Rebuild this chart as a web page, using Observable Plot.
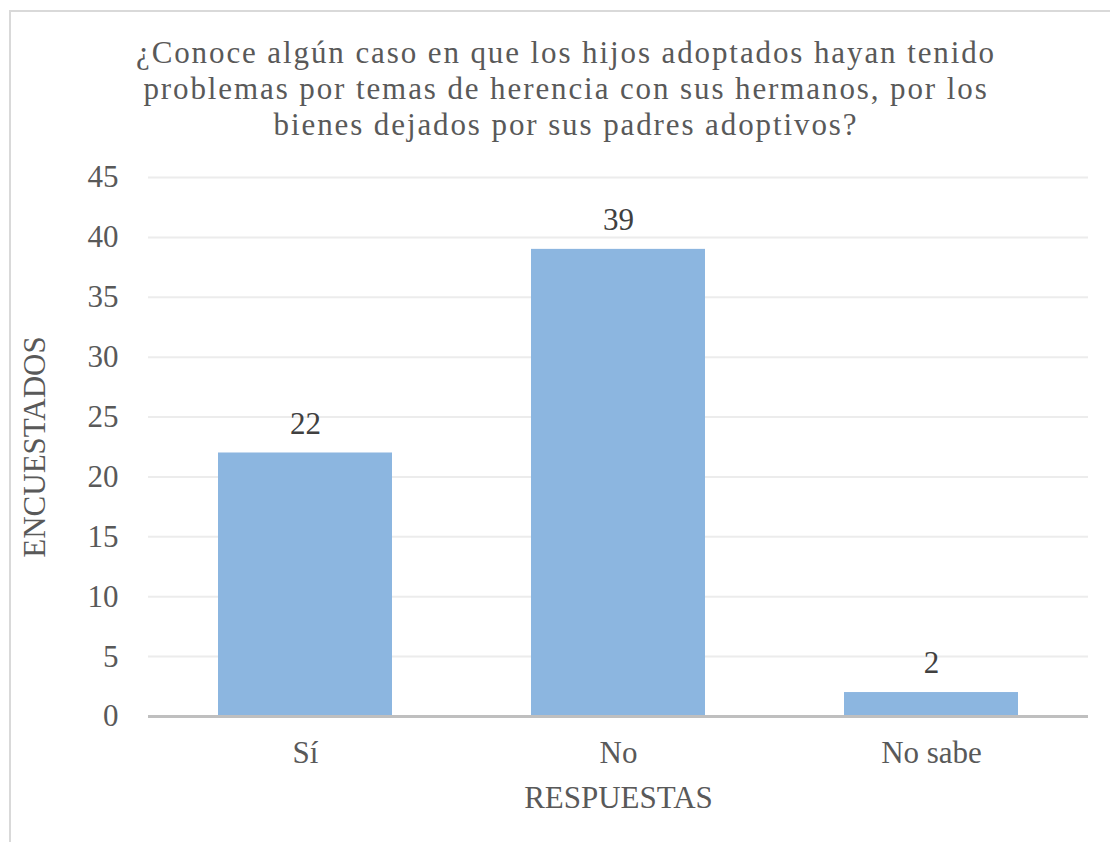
<!DOCTYPE html>
<html>
<head>
<meta charset="utf-8">
<script src="https://cdn.jsdelivr.net/npm/d3@7"></script>
<script src="https://cdn.jsdelivr.net/npm/@observablehq/plot@0.6"></script>
<style>
  html, body { margin: 0; padding: 0; background: #fff; }
  #wrap { position: relative; width: 1110px; height: 842px; overflow: hidden; }
  #frame { position: absolute; left: 9px; top: 10px; width: 1120px; height: 860px;
           border-left: 2px solid #d9d9d9; border-top: 2px solid #d9d9d9; pointer-events: none; }
  #title { height: 160px; box-sizing: border-box; padding-top: 35px; width: 1132px;
           text-align: center; font-family: "Liberation Serif", "Times New Roman", serif;
           font-size: 31px; line-height: 36px; color: #595959; letter-spacing: 1.9px; }
  svg { display: block; }
</style>
</head>
<body>
<div id="wrap">
  <div id="title">¿Conoce algún caso en que los hijos adoptados hayan tenido<br>problemas por temas de herencia con sus hermanos, por los<br>bienes dejados por sus padres adoptivos?</div>
  <div id="chart"></div>
  <div id="frame"></div>
</div>
<script>
const categories = ["Sí", "No", "No sabe"];
const values = [22, 39, 2];
const yTicks = [0, 5, 10, 15, 20, 25, 30, 35, 40, 45];

const data = categories.map((c, i) => ({category: c, value: values[i]}));
const font = '"Liberation Serif", "Times New Roman", serif';

const chart = Plot.plot({
  width: 1110,
  height: 682,
  marginLeft: 148,
  marginRight: 22,
  marginTop: 17,
  marginBottom: 126,
  style: {fontFamily: font, fontSize: "31px", color: "#595959", background: "transparent"},
  x: {domain: categories, paddingInner: 0.445, paddingOuter: 0.22, label: null},
  y: {domain: [0, 45], label: null},
  marks: [
    Plot.gridY(yTicks, {stroke: "#ececec", strokeOpacity: 1, strokeWidth: 2}),
    Plot.barY(data, {x: "category", y: "value", fill: "#8cb6e0"}),
    Plot.ruleY([0], {stroke: "#bfbfbf", strokeWidth: 3}),
    Plot.text(data, {x: "category", y: "value", text: d => String(d.value), dy: -29,
      fill: "#404040", fontSize: 31, lineAnchor: "middle"}),
    Plot.axisY(yTicks, {tickSize: 0, tickPadding: 30, fill: "#595959", fontSize: 31, label: null}),
    Plot.axisX({tickSize: 0, tickPadding: 24, fill: "#595959", fontSize: 31, label: null,
      style: {letterSpacing: "1px"}}),
    Plot.text(["ENCUESTADOS"], {frameAnchor: "left", textAnchor: "middle", dx: -113, rotate: -90,
      fill: "#595959", fontSize: 31, lineAnchor: "middle", style: {letterSpacing: "2px"}}),
    Plot.text(["RESPUESTAS"], {frameAnchor: "bottom", dy: 82, fill: "#595959",
      fontSize: 31, lineAnchor: "middle", style: {letterSpacing: "0.4px"}})
  ]
});
document.getElementById("chart").appendChild(chart);
</script>
</body>
</html>
